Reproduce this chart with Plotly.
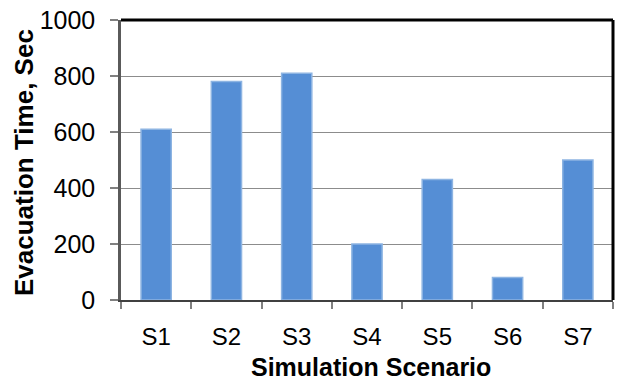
import plotly.graph_objects as go

scenarios = ["S1", "S2", "S3", "S4", "S5", "S6", "S7"]
evac_time = [610, 780, 810, 200, 430, 80, 500]
y_ticks = [0, 200, 400, 600, 800, 1000]
x_title = "Simulation Scenario"
y_title = "Evacuation Time, Sec"

fig = go.Figure()
fig.add_trace(go.Bar(
    x=scenarios, y=evac_time,
    marker=dict(color="#558ED5", line=dict(color="#8DB4E2", width=1.5)),
    showlegend=False,
))

font_family = "Liberation Sans, Arial, sans-serif"

fig.update_layout(
    width=617, height=385,
    margin=dict(l=121, r=4, t=20, b=85),
    paper_bgcolor="white", plot_bgcolor="white",
    bargap=0.57,
    font=dict(family=font_family, color="black"),
    xaxis=dict(
        tickson="boundaries", ticks="outside", ticklen=7, tickcolor="#808080", tickwidth=1.5,
        showline=True, linecolor="#404040", linewidth=2,
        tickfont=dict(size=24), ticklabelstandoff=14,
        showgrid=False,
    ),
    yaxis=dict(
        range=[0, 1000], tickvals=y_ticks, ticks="outside", ticklen=8, tickcolor="#808080", tickwidth=1.5,
        showline=True, linecolor="#5a5a5a", linewidth=2.5,
        showgrid=True, gridcolor="#8c8c8c", gridwidth=1,
        tickfont=dict(size=25), ticklabelstandoff=10,
        zeroline=False,
    ),
    annotations=[
        dict(text="<b>%s</b>" % x_title, xref="paper", yref="paper",
             x=(371 - 121) / 492, y=-(367 - 300) / 280, xanchor="center", yanchor="middle",
             showarrow=False, font=dict(size=25)),
        dict(text="<b>%s</b>" % y_title, xref="paper", yref="paper",
             x=-(121 - 24) / 492, y=(300 - 163) / 280, xanchor="center", yanchor="middle",
             textangle=-90, showarrow=False, font=dict(size=26)),
    ],
)

fig.add_shape(type="line", xref="paper", yref="paper", x0=0, x1=1, y0=1, y1=1,
              line=dict(color="black", width=3))
fig.add_shape(type="line", xref="paper", yref="paper", x0=1, x1=1, y0=0, y1=1,
              line=dict(color="black", width=3))

fig.write_html("out.html")
